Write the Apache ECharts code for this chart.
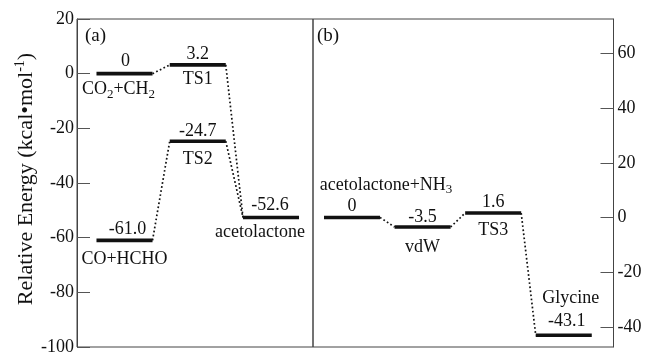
<!DOCTYPE html>
<html><head><meta charset="utf-8">
<script src="https://cdn.jsdelivr.net/npm/echarts@6/dist/echarts.min.js"></script>
<style>html,body{margin:0;padding:0;background:#fff}#c{width:645px;height:352px}</style>
</head><body><div id="c"></div>
<script>
// ---------- DATA ----------
// Panel (a)
const namesA = ['CO₂+CH₂', 'TS1', 'TS2', 'CO+HCHO', 'acetolactone'];
const energiesA = [0, 3.2, -24.7, -61.0, -52.6];
const stepsA = [0, 1, 1, 0, 2];            // reaction-coordinate column
const linksA = [[0, 1], [1, 4], [3, 2], [2, 4]];
const ticksA = [-100, -80, -60, -40, -20, 0, 20];
// Panel (b)
const namesB = ['acetolactone+NH₃', 'vdW', 'TS3', 'Glycine'];
const energiesB = [0, -3.5, 1.6, -43.1];
const stepsB = [0, 1, 2, 3];
const linksB = [[0, 1], [1, 2], [2, 3]];
const ticksB = [-40, -20, 0, 20, 40, 60];
const panelLabels = ['(a)', '(b)'];

// ---------- STYLE / LAYOUT ----------
const FONT = 'Liberation Serif';
const TXT = '#111';
const AX = '#444';
const layA = { w: 0.765, vdx: [1, 0, 0, 3, -1], vdy: [-12, -11, -10, -11, -12], ndx: [-6, 0, 0, 0, -11], ndy: [16, 14, 18, 19, 15] };
const layB = { w: 0.794, vdx: [0, 0, 0, 3], vdy: [-11, -10, -11, -14], ndx: [34, 0, 0, 7], ndy: [-32, 20, 17, -37] };
const RICH = {
  a: { fontFamily: FONT, fontSize: 18, lineHeight: 22, fill: TXT, color: TXT },
  s: { fontFamily: FONT, fontSize: 13, lineHeight: 13, fill: TXT, color: TXT, verticalAlign: 'bottom' }
};
const SUB = { '₂': '2', '₃': '3' };
function richName(n) {
  let out = '', buf = '';
  for (const ch of n) {
    if (SUB[ch]) { if (buf) out += '{a|' + buf + '}'; buf = ''; out += '{s|' + SUB[ch] + '}'; }
    else buf += ch;
  }
  if (buf) out += '{a|' + buf + '}';
  return out;
}
const fmt = e => (e === 0 ? '0' : e.toFixed(1));

// right-axis offset: acetolactone (end of panel a) is the zero of panel b
const offsetB = -energiesA[4];

function levelSeries(names, energies, steps, lay, xi) {
  return {
    type: 'custom', coordinateSystem: 'cartesian2d', xAxisIndex: xi, yAxisIndex: xi, silent: true,
    data: energies.map((e, i) => [steps[i], e, i]),
    renderItem(params, api) {
      const i = api.value(2), s = api.value(0), e = api.value(1);
      const p0 = api.coord([s, e]), p1 = api.coord([s + lay.w, e]);
      const cx = (p0[0] + p1[0]) / 2;
      return {
        type: 'group', children: [
          { type: 'line', shape: { x1: p0[0], y1: p0[1], x2: p1[0], y2: p1[1] }, style: { stroke: '#111', lineWidth: 3.6 } },
          { type: 'text', x: cx + lay.vdx[i], y: p0[1] + lay.vdy[i],
            style: { text: '{a|' + fmt(e) + '}', rich: RICH, align: 'center', verticalAlign: 'middle' } },
          { type: 'text', x: cx + lay.ndx[i], y: p0[1] + lay.ndy[i],
            style: { text: richName(names[i]), rich: RICH, align: 'center', verticalAlign: 'middle' } }
        ]
      };
    }
  };
}
function linkSeries(links, energies, steps, lay, xi) {
  return {
    type: 'custom', coordinateSystem: 'cartesian2d', xAxisIndex: xi, yAxisIndex: xi, silent: true,
    data: links.map(([a, b]) => [steps[a] + lay.w, energies[a], steps[b], energies[b]]),
    renderItem(params, api) {
      const p0 = api.coord([api.value(0), api.value(1)]);
      const p1 = api.coord([api.value(2), api.value(3)]);
      return { type: 'line', shape: { x1: p0[0], y1: p0[1], x2: p1[0], y2: p1[1] },
        style: { stroke: '#111', lineWidth: 1.7, lineDash: [1.7, 2.4] } };
    }
  };
}

const axisCommon = {
  axisLine: { show: true, onZero: false, lineStyle: { color: AX, width: 1 } },
  axisTick: { show: true, inside: true, length: 13, lineStyle: { color: '#555' } },
  splitLine: { show: false },
  axisLabel: { fontFamily: FONT, fontSize: 18, color: TXT }
};

const chart = echarts.init(document.getElementById('c'), null, { renderer: 'canvas' });
chart.setOption({
  animation: false,
  backgroundColor: '#fff',
  grid: [
    { left: 77, top: 19, width: 236, bottom: 5, show: true, borderColor: AX, borderWidth: 1, containLabel: false, outerBoundsMode: 'none' },
    { left: 313, top: 19, right: 31.5, bottom: 5, show: true, borderColor: AX, borderWidth: 1, containLabel: false, outerBoundsMode: 'none' }
  ],
  xAxis: [
    { type: 'value', gridIndex: 0, min: -0.266, max: 2.956, show: false },
    { type: 'value', gridIndex: 1, min: -0.156, max: 4.102, show: false }
  ],
  yAxis: [
    Object.assign({}, axisCommon, {
      type: 'value', gridIndex: 0, position: 'left',
      min: ticksA[0], max: ticksA[ticksA.length - 1], interval: 20,
      axisLabel: Object.assign({}, axisCommon.axisLabel, { margin: 3 }),
      name: '{a|Relative Energy (kcal•mol}{s|-1}{a|)}',
      nameLocation: 'middle', nameGap: 36, nameRotate: 90,
      nameTextStyle: {
        padding: [0, 0, 0, 8],
        rich: {
          a: { fontFamily: FONT, fontSize: 22, lineHeight: 26, color: TXT },
          s: { fontFamily: FONT, fontSize: 14, lineHeight: 14, color: TXT, verticalAlign: 'top' }
        }
      }
    }),
    Object.assign({}, axisCommon, {
      type: 'value', gridIndex: 1, position: 'right',
      min: -100 + offsetB, max: 20 + offsetB,
      axisLabel: Object.assign({}, axisCommon.axisLabel, { margin: 4, customValues: ticksB }),
      axisTick: Object.assign({}, axisCommon.axisTick, { customValues: ticksB })
    })
  ],
  graphic: [
    { type: 'text', left: 85, top: 27, style: { text: panelLabels[0], font: '19px "Liberation Serif"', fill: TXT } },
    { type: 'text', left: 317, top: 27, style: { text: panelLabels[1], font: '19px "Liberation Serif"', fill: TXT } }
  ],
  series: [
    linkSeries(linksA, energiesA, stepsA, layA, 0),
    levelSeries(namesA, energiesA, stepsA, layA, 0),
    linkSeries(linksB, energiesB, stepsB, layB, 1),
    levelSeries(namesB, energiesB, stepsB, layB, 1)
  ]
});
</script>
</body></html>
